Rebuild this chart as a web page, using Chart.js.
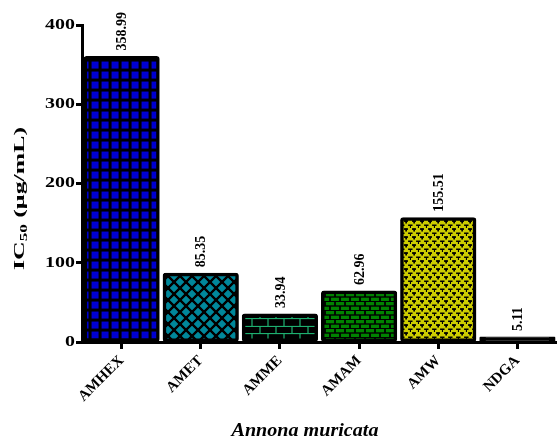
<!DOCTYPE html>
<html><head><meta charset="utf-8">
<script src="https://cdn.jsdelivr.net/npm/chart.js@4/dist/chart.umd.min.js"></script>
<style>html,body{margin:0;padding:0;background:#fff;overflow:hidden}</style>
</head><body>
<canvas id="c" width="557" height="441" style="display:block"></canvas>
<script>
const categories = ['AMHEX', 'AMET', 'AMME', 'AMAM', 'AMW', 'NDGA'];
const ic50Values = [358.99, 85.35, 33.94, 62.96, 155.51, 5.11];
const valueLabels = ['358.99', '85.35', '33.94', '62.96', '155.51', '5.11'];
const yTicks = [0, 100, 200, 300, 400];
const yTitleMain = 'IC', yTitleSub = '50', yTitleRest = ' (µg/mL)';
const xTitle = 'Annona muricata';

const SERIF = '"Liberation Serif","Times New Roman",serif';
const canvas = document.getElementById('c');
const ctx = canvas.getContext('2d');

function makePattern(w, h, draw) {
  const s = 4;
  const c = document.createElement('canvas');
  c.width = w * s; c.height = h * s;
  const g = c.getContext('2d');
  g.scale(s, s);
  draw(g, w, h);
  const p = ctx.createPattern(c, 'repeat');
  p.setTransform(new DOMMatrix().scale(1 / s));
  return p;
}

const pHex = makePattern(10, 10, (g) => {
  g.fillStyle = '#000'; g.fillRect(0, 0, 10, 10);
  g.fillStyle = '#0000D2'; g.fillRect(1.5, 1.5, 7, 7);
});
const pEt = makePattern(12, 12, (g) => {
  g.fillStyle = '#00879A'; g.fillRect(0, 0, 12, 12);
  g.strokeStyle = '#000'; g.lineWidth = 2.6;
  for (let k = -1; k <= 1; k++) {
    g.beginPath(); g.moveTo(k * 12, 0); g.lineTo(k * 12 + 12, 12); g.stroke();
    g.beginPath(); g.moveTo(k * 12 + 12, 0); g.lineTo(k * 12, 12); g.stroke();
  }
});
const pMe = makePattern(16, 15, (g) => {
  g.fillStyle = '#000'; g.fillRect(0, 0, 16, 15);
  g.strokeStyle = '#1EB070'; g.lineWidth = 1.1;
  g.beginPath();
  g.moveTo(0, 3.75); g.lineTo(16, 3.75);
  g.moveTo(0, 11.25); g.lineTo(16, 11.25);
  g.moveTo(12, 3.75); g.lineTo(12, 11.25);
  g.moveTo(4, 11.25); g.lineTo(4, 15);
  g.moveTo(4, 0); g.lineTo(4, 3.75);
  g.stroke();
});
const pAm = makePattern(10, 9, (g) => {
  g.fillStyle = '#000'; g.fillRect(0, 0, 10, 9);
  g.fillStyle = '#008200';
  g.fillRect(0.7, 0.6, 8.6, 3.3);
  g.fillRect(-4.3, 5.1, 8.6, 3.3);
  g.fillRect(5.7, 5.1, 8.6, 3.3);
});
const pW = makePattern(8, 8, (g) => {
  g.fillStyle = '#CDCD00'; g.fillRect(0, 0, 8, 8);
  g.fillStyle = '#000';
  g.fillRect(0.3, 0.5, 4.2, 1.5);
  g.fillRect(1.7, 2, 1.5, 1.8);
  g.fillRect(4.3, 4.3, 3.4, 1.5);
  g.fillRect(5.4, 5.8, 1.4, 1.7);
});
const barFills = [pHex, pEt, pMe, pAm, pW, '#000'];

const stretchY = {
  id: 'stretchY',
  afterLayout(chart) {
    const s = chart.scales.y;
    if (s._patched) return;
    s._patched = true;
    const orig = s.drawLabels;
    s.drawLabels = function (area) {
      const items = this.getLabelItems(area);
      const ax = items.length ? items[0].options.translation[0] : this.right;
      const c = this.ctx;
      c.save();
      c.translate(ax, 0); c.scale(1.33, 1); c.translate(-ax, 0);
      orig.call(this, area);
      c.restore();
    };
  }
};

const annot = {
  id: 'annot',
  afterDatasetsDraw(chart) {
    const c = chart.ctx;
    const meta = chart.getDatasetMeta(0);
    c.save();
    c.fillStyle = '#000';
    c.font = 'bold 14px ' + SERIF;
    c.textAlign = 'left'; c.textBaseline = 'middle';
    meta.data.forEach((bar, i) => {
      c.save();
      c.translate(bar.x + 1, bar.y - 7);
      c.rotate(-Math.PI / 2);
      c.fillText(valueLabels[i], 0, 0);
      c.restore();
    });
    // y title
    c.textBaseline = 'alphabetic';
    const mainFont = 'bold 15px ' + SERIF, subFont = 'bold 10px ' + SERIF;
    c.font = mainFont; const w1 = c.measureText(yTitleMain).width;
    c.font = subFont; const w2 = c.measureText(yTitleSub).width;
    c.font = mainFont; const w3 = c.measureText(yTitleRest).width;
    const total = w1 + w2 + w3;
    const sx = 143 / total;
    c.save();
    c.translate(23.5, 270);
    c.rotate(-Math.PI / 2);
    c.scale(sx, 1);
    c.font = mainFont; c.fillText(yTitleMain, 0, 0);
    c.font = subFont; c.fillText(yTitleSub, w1, 3);
    c.font = mainFont; c.fillText(yTitleRest, w1 + w2, 0);
    c.restore();
    // x title
    c.font = 'italic bold 19px ' + SERIF;
    const wx = c.measureText(xTitle).width;
    c.save();
    c.translate(305, 436);
    c.scale(147 / wx, 1);
    c.textAlign = 'center';
    c.fillText(xTitle, 0, 0);
    c.restore();
    c.restore();
  }
};

new Chart(ctx, {
  type: 'bar',
  data: {
    labels: categories,
    datasets: [{
      data: ic50Values,
      backgroundColor: barFills,
      borderColor: '#000',
      borderWidth: 3.5,
      borderRadius: 3,
      borderSkipped: false,
      inflateAmount: 1.5,
      barPercentage: 0.925,
      categoryPercentage: 1
    }]
  },
  options: {
    responsive: false,
    animation: false,
    devicePixelRatio: 1,
    layout: { padding: { top: 25, right: 0, left: 0, bottom: 0 } },
    plugins: { legend: { display: false }, tooltip: { enabled: false } },
    scales: {
      x: {
        offset: true,
        grid: { display: true, offset: false, drawOnChartArea: false, drawTicks: true, tickLength: 7, lineWidth: 3, color: '#000' },
        border: { display: true, width: 3, color: '#000' },
        ticks: { color: '#000', font: { family: SERIF, size: 15, weight: 'bold' }, minRotation: 45, maxRotation: 45, padding: 3, autoSkip: false },
        afterFit(s) { s.height = 99; s.paddingLeft = 0; s.paddingRight = 0; }
      },
      y: {
        min: 0, max: 400,
        afterBuildTicks(s) { s.ticks = yTicks.map(v => ({ value: v })); },
        grid: { display: true, drawOnChartArea: false, drawTicks: true, tickLength: 6, lineWidth: 3, color: '#000' },
        border: { display: true, width: 3, color: '#000' },
        ticks: { color: '#000', font: { family: SERIF, size: 15, weight: 'bold' }, padding: 1 },
        afterFit(s) { s.width = 82; s.paddingTop = 0; s.paddingBottom = 0; }
      }
    }
  },
  plugins: [stretchY, annot]
});
</script>
</body></html>
